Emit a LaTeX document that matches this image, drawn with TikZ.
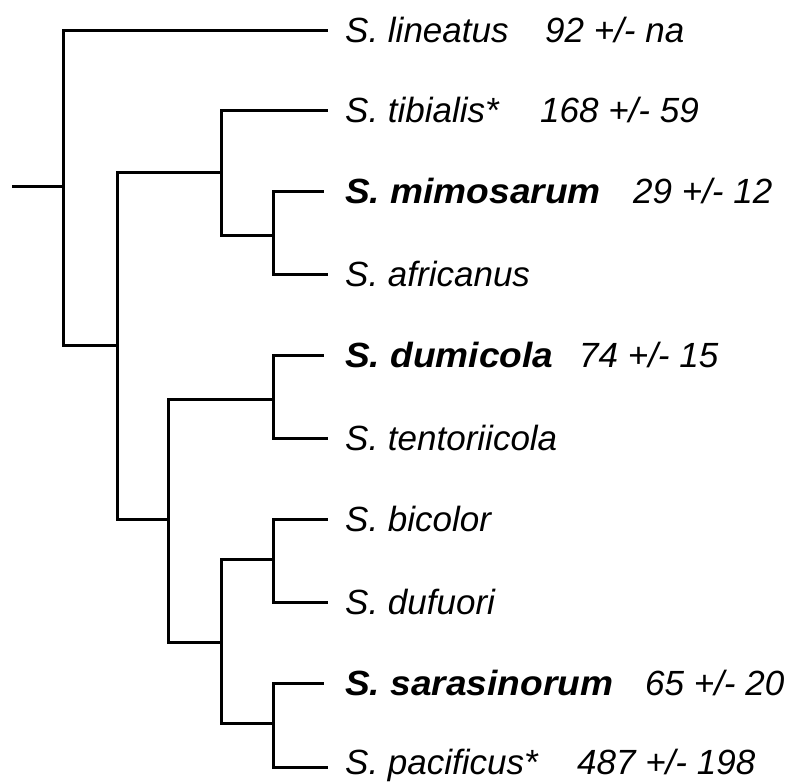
\documentclass[tikz,border=0pt]{standalone}
\usepackage{fontspec}
\setmainfont{Liberation Sans}[BoldItalicFeatures={FakeStretch=1.06}]
\begin{document}
\begin{tikzpicture}[x=1pt,y=-1pt,
  branch/.style={line width=3pt, line join=miter},
  lab/.style={inner sep=0pt, anchor=base west, font=\fontsize{35}{40}\selectfont\itshape},
  blab/.style={lab, font=\fontsize{35}{40}\selectfont\bfseries\itshape},
  num/.style={lab}]
\useasboundingbox (0,0) rectangle (795,782);
% internal nodes
\coordinate (stub) at (12,186);
\coordinate (R) at (63,186);
\coordinate (A) at (117,345);
\coordinate (B) at (221,172);
\coordinate (C) at (273,235);
\coordinate (E) at (168,519);
\coordinate (D) at (273,399);
\coordinate (F) at (221,642);
\coordinate (G) at (273,559);
\coordinate (H) at (273,723);
% leaf ends
\coordinate (lin) at (328,30);
\coordinate (tib) at (328,110);
\coordinate (mim) at (324,191);
\coordinate (afr) at (328,274);
\coordinate (dum) at (324,355);
\coordinate (ten) at (328,438);
\coordinate (bic) at (328,519);
\coordinate (duf) at (328,602);
\coordinate (sar) at (324,683);
\coordinate (pac) at (328,767);
% branches
\draw[branch] (stub) -- (R);
\draw[branch] (R) |- (lin);
\draw[branch] (R) |- (A);
\draw[branch] (A) |- (B);
\draw[branch] (A) |- (E);
\draw[branch] (B) |- (tib);
\draw[branch] (B) |- (C);
\draw[branch] (C) |- (mim);
\draw[branch] (C) |- (afr);
\draw[branch] (E) |- (D);
\draw[branch] (E) |- (F);
\draw[branch] (D) |- (dum);
\draw[branch] (D) |- (ten);
\draw[branch] (F) |- (G);
\draw[branch] (F) |- (H);
\draw[branch] (G) |- (bic);
\draw[branch] (G) |- (duf);
\draw[branch] (H) |- (sar);
\draw[branch] (H) |- (pac);
% labels
\node[lab]  (tlin) at (345,42)  {S. lineatus};
\node[num]  (nlin) at (545,42)  {92 +/- na};
\node[lab]  (ttib) at (345,122) {S. tibialis*};
\node[num]  (ntib) at (540,122) {168 +/- 59};
\node[blab] (tmim) at (345,203) {S. mimosarum};
\node[num]  (nmim) at (633,203) {29 +/- 12};
\node[lab]  (tafr) at (345,286) {S. africanus};
\node[blab] (tdum) at (345,367) {S. dumicola};
\node[num]  (ndum) at (579,367) {74 +/- 15};
\node[lab]  (tten) at (345,450) {S. tentoriicola};
\node[lab]  (tbic) at (345,531) {S. bicolor};
\node[lab]  (tduf) at (345,614) {S. dufuori};
\node[blab] (tsar) at (345,695) {S. sarasinorum};
\node[num]  (nsar) at (645,695) {65 +/- 20};
\node[lab]  (tpac) at (345,774) {S. pacificus*};
\node[num]  (npac) at (577,774) {487 +/- 198};
\end{tikzpicture}
\end{document}
